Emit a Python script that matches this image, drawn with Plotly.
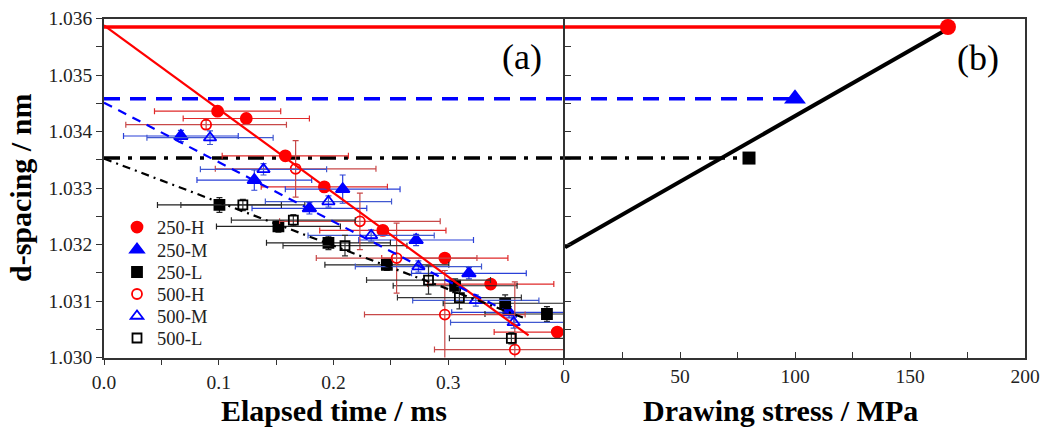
import plotly.graph_objects as go

# ---------------- data ----------------
# (a) d-spacing vs elapsed time
h250_t = [0.099, 0.124, 0.158, 0.192, 0.243, 0.297, 0.337, 0.395]
h250_d = [1.03436, 1.03423, 1.03357, 1.03302, 1.03225, 1.03176, 1.03130, 1.03045]
h250_terr = [0.055] * 8
h250_derr = [0, 0, 0, 0, 0, 0, 0, 0]

m250_t = [0.067, 0.131, 0.179, 0.208, 0.272, 0.318, 0.353]
m250_d = [1.03392, 1.03314, 1.03264, 1.03298, 1.03208, 1.03149, 1.03080]
m250_terr = [0.050] * 7
m250_derr = [0.0001, 0.00018, 0.0001, 0.00025, 0.0001, 0.0001, 0.0001]

l250_t = [0.1006, 0.152, 0.1956, 0.2465, 0.306, 0.3496, 0.386]
l250_d = [1.03270, 1.03232, 1.03203, 1.03164, 1.03127, 1.03096, 1.03077]
l250_terr = [0.054] * 7
l250_derr = [0.00013, 0.0001, 0.00012, 0.0001, 0.00012, 0.00015, 0.00013]

h500_t = [0.089, 0.167, 0.223, 0.255, 0.297, 0.358]
h500_d = [1.03412, 1.03334, 1.03241, 1.03176, 1.03076, 1.03014]
h500_terr = [0.070] * 6
h500_derr = [0.00008, 0.0005, 0.0005, 0.00062, 0.00078, 0.0012]

m500_t = [0.0924, 0.139, 0.1956, 0.2328, 0.274, 0.324, 0.357]
m500_d = [1.03389, 1.03333, 1.03276, 1.03216, 1.03161, 1.03101, 1.03062]
m500_terr = [0.055] * 7
m500_derr = [0.00012, 0.0001, 0.0001, 0.0001, 0.0001, 0.0001, 0.0001]

l500_t = [0.121, 0.165, 0.210, 0.2828, 0.3097, 0.355]
l500_d = [1.03270, 1.03243, 1.03198, 1.03137, 1.03106, 1.03034]
l500_terr = [0.054] * 6
l500_derr = [0.0001, 0.0001, 0.00018, 0.00025, 0.0002, 0.0001]

# linear fits in (a)
fitH_t = [0.0, 0.370]
fitH_d = [1.03588, 1.03039]
fitM_t = [0.0, 0.360]
fitM_d = [1.03451, 1.03072]
fitL_t = [0.0, 0.366]
fitL_d = [1.03352, 1.03070]

# (b) zero-time d-spacing vs drawing stress
stress = [166.5, 100.0, 80.0]
d0 = [1.03585, 1.03458, 1.03353]
fitS_x = [0.0, 166.5]
fitS_d = [1.03195, 1.03582]

t_max = 0.4
s_max = 200

# ---------------- figure ----------------
W, H = 1044, 430
FONT = "Liberation Serif, Times New Roman, serif"
RED, BLUE, BLACK = "#ff0000", "#0000ff", "#000000"


def px_x(p):
    return p / W


def px_y(p):
    return 1 - p / H


fig = go.Figure()
legend_ids = ["legend", "legend2", "legend3", "legend4", "legend5", "legend6"]
legend_rows = [227.5, 250, 272.5, 294.5, 316.5, 338.5]


def series(k, name, t, d, terr, derr, symbol, color, ecolor, size):
    fig.add_trace(go.Scatter(
        x=t, y=d, mode="markers", name=name, xaxis="x", yaxis="y",
        legend=legend_ids[k],
        marker=dict(symbol=symbol, size=size, color=color,
                    line=dict(color=color, width=1.8)),
        error_x=dict(type="data", array=terr, visible=True, color=ecolor,
                     thickness=1.2, width=3),
        error_y=dict(type="data", array=derr, visible=True, color=ecolor,
                     thickness=1.2, width=3),
    ))


# horizontal lines in (a)
for yv, col, dash, w in [(d0[0], RED, "solid", 3.5), (d0[1], BLUE, "16px,10px", 3.5),
                         (d0[2], BLACK, "16px,8px,4px,8px", 3.5)]:
    fig.add_trace(go.Scatter(x=[0, t_max], y=[yv, yv], mode="lines", showlegend=False,
                             line=dict(color=col, width=w, dash=dash),
                             xaxis="x", yaxis="y", hoverinfo="skip"))

series(0, "250-H", h250_t, h250_d, h250_terr, h250_derr, "circle", RED, "#e02a2a", 11)
series(1, "250-M", m250_t, m250_d, m250_terr, m250_derr, "triangle-up", BLUE, "#2a40d8", 12)
series(2, "250-L", l250_t, l250_d, l250_terr, l250_derr, "square", BLACK, "#222222", 10)
series(3, "500-H", h500_t, h500_d, h500_terr, h500_derr, "circle-open", RED, "#c84848", 10)
series(4, "500-M", m500_t, m500_d, m500_terr, m500_derr, "triangle-up-open", BLUE, "#4058d0", 11)
series(5, "500-L", l500_t, l500_d, l500_terr, l500_derr, "square-open", BLACK, "#333333", 9)

# fit lines in (a)
fig.add_trace(go.Scatter(x=fitH_t, y=fitH_d, mode="lines", showlegend=False,
                         line=dict(color=RED, width=2.2), xaxis="x", yaxis="y"))
fig.add_trace(go.Scatter(x=fitM_t, y=fitM_d, mode="lines", showlegend=False,
                         line=dict(color=BLUE, width=2.2, dash="9px,7px"), xaxis="x", yaxis="y"))
fig.add_trace(go.Scatter(x=fitL_t, y=fitL_d, mode="lines", showlegend=False,
                         line=dict(color=BLACK, width=2.2, dash="8px,5px,2px,5px"), xaxis="x", yaxis="y"))

# (b) horizontal lines up to each marker
for i, (col, dash) in enumerate([(RED, "solid"), (BLUE, "16px,10px"), (BLACK, "16px,8px,4px,8px")]):
    fig.add_trace(go.Scatter(x=[0, stress[i]], y=[d0[i], d0[i]], mode="lines", showlegend=False,
                             line=dict(color=col, width=3.5, dash=dash),
                             xaxis="x2", yaxis="y2", hoverinfo="skip"))

fig.add_trace(go.Scatter(x=fitS_x, y=fitS_d, mode="lines", showlegend=False,
                         line=dict(color=BLACK, width=4), xaxis="x2", yaxis="y2"))

for i, (sym, col, sz) in enumerate([("circle", RED, 16), ("triangle-up", BLUE, 19), ("square", BLACK, 13)]):
    fig.add_trace(go.Scatter(x=[stress[i]], y=[d0[i]], mode="markers", showlegend=False,
                             marker=dict(symbol=sym, size=sz, color=col),
                             xaxis="x2", yaxis="y2", cliponaxis=False))

AX = "#333333"
tickfont = dict(family=FONT, size=19.5, color="#222222")

legend_layout = {}
for lid, row in zip(legend_ids, legend_rows):
    legend_layout[lid] = dict(x=px_x(117), y=px_y(row), xanchor="left", yanchor="middle",
                              bgcolor="rgba(0,0,0,0)", borderwidth=0,
                              font=dict(family=FONT, size=18.5, color="#222222"),
                              itemwidth=30)

fig.update_layout(
    width=W, height=H,
    margin=dict(l=0, r=0, t=0, b=0),
    paper_bgcolor="white", plot_bgcolor="white",
    font=dict(family=FONT, color="#222222"),
    xaxis=dict(domain=[px_x(104), px_x(563)], range=[0, t_max], automargin=False,
               tickmode="array", tickvals=[0, 0.1, 0.2, 0.3], tickformat=".1f",
               ticks="outside", ticklen=6, tickcolor=AX, tickwidth=1,
               minor=dict(tickmode="linear", tick0=0, dtick=0.05, ticks="outside",
                          ticklen=6, tickcolor=AX),
               showline=True, linecolor=AX, linewidth=1.5, mirror=True,
               showgrid=False, zeroline=False, tickfont=tickfont),
    yaxis=dict(domain=[px_y(357.5), px_y(18.5)], range=[1.030, 1.036], automargin=False,
               dtick=0.001, tick0=1.030, tickformat=".3f",
               ticks="outside", ticklen=6, tickcolor=AX,
               minor=dict(dtick=0.0005, ticks="outside", ticklen=6, tickcolor=AX),
               showline=True, linecolor=AX, linewidth=1.5, mirror=True,
               showgrid=False, zeroline=False, tickfont=tickfont, anchor="x"),
    xaxis2=dict(domain=[px_x(565), px_x(1025)], range=[0, s_max], dtick=50, automargin=False,
                ticks="inside", ticklen=6, tickcolor=AX,
                minor=dict(dtick=25, ticks="inside", ticklen=6, tickcolor=AX),
                showline=True, linecolor=AX, linewidth=1.5, mirror=True,
                showgrid=False, zeroline=False, tickfont=tickfont, anchor="y2"),
    yaxis2=dict(domain=[px_y(357.5), px_y(18.5)], range=[1.030, 1.036], automargin=False,
                dtick=0.0005, ticks="inside", ticklen=6, tickcolor=AX, showticklabels=False,
                showline=True, linecolor=AX, linewidth=1.5, mirror=True,
                showgrid=False, zeroline=False, anchor="x2"),
    showlegend=True,
    annotations=[
        dict(text="<b>Elapsed time / ms</b>", x=px_x(333.5), y=px_y(410), xref="paper", yref="paper",
             showarrow=False, xanchor="center", yanchor="middle",
             font=dict(family=FONT, size=30, color="#000000")),
        dict(text="<b>Drawing stress / MPa</b>", x=px_x(780), y=px_y(410), xref="paper", yref="paper",
             showarrow=False, xanchor="center", yanchor="middle",
             font=dict(family=FONT, size=30, color="#000000")),
        dict(text="<b>d-spacing / nm</b>", x=px_x(20), y=px_y(188), xref="paper", yref="paper",
             showarrow=False, xanchor="center", yanchor="middle", textangle=-90,
             font=dict(family=FONT, size=30, color="#000000")),
        dict(text="(a)", x=px_x(522), y=px_y(57), xref="paper", yref="paper",
             showarrow=False, xanchor="center", yanchor="middle",
             font=dict(family=FONT, size=36, color="#000000")),
        dict(text="(b)", x=px_x(978), y=px_y(58), xref="paper", yref="paper",
             showarrow=False, xanchor="center", yanchor="middle",
             font=dict(family=FONT, size=36, color="#000000")),
    ],
)
fig.update_layout(**legend_layout)

fig.write_html("out.html")
